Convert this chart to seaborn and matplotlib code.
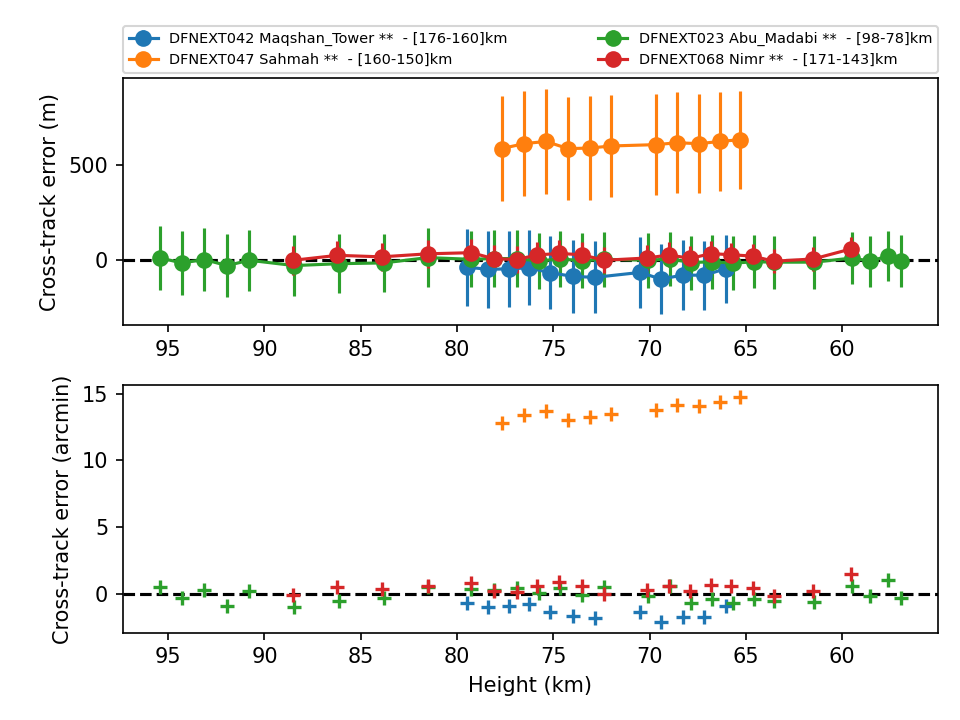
#!/usr/bin/env python3

import matplotlib
matplotlib.use("Agg")
import matplotlib.pyplot as plt
import seaborn as sns

# Station labels (legend order)
LABELS = [
    "DFNEXT042 Maqshan_Tower **  - [176-160]km",
    "DFNEXT047 Sahmah **  - [160-150]km",
    "DFNEXT023 Abu_Madabi **  - [98-78]km",
    "DFNEXT068 Nimr **  - [171-143]km",
]

# DFNEXT042 Maqshan_Tower
maq_height = [79.47, 78.40, 77.31, 76.27, 75.18, 73.98, 72.84, 70.49, 69.42, 68.26, 67.16, 66.03]
maq_err_m = [-36, -48, -45, -40, -65, -85, -90, -64, -99, -78, -79, -44]
maq_sigma_m = [203, 202, 199, 197, 191, 192, 190, 189, 184, 184, 182, 179]
maq_err_arcmin = [-0.70, -0.99, -0.90, -0.80, -1.34, -1.70, -1.82, -1.35, -2.10, -1.72, -1.72, -0.92]

# DFNEXT047 Sahmah
sah_height = [77.69, 76.53, 75.38, 74.24, 73.10, 72.00, 69.66, 68.57, 67.42, 66.36, 65.29]
sah_err_m = [588, 614, 626, 588, 591, 602, 609, 619, 614, 626, 635]
sah_sigma_m = [277, 277, 276, 272, 272, 268, 267, 265, 262, 261, 259]
sah_err_arcmin = [12.80, 13.40, 13.68, 13.03, 13.28, 13.48, 13.78, 14.15, 14.05, 14.38, 14.78]

# DFNEXT023 Abu_Madabi
abu_height = [95.43, 94.27, 93.13, 91.95, 90.79, 88.46, 86.12, 83.81, 81.52, 79.25,
              78.09, 76.91, 75.75, 74.66, 73.51, 72.37, 70.08, 68.93, 67.86, 66.76,
              65.65, 64.56, 63.54, 61.44, 59.48, 58.53, 57.64, 56.95]
abu_err_m = [12, -14, 4, -28, 0, -28, -18, -14, 14, 5,
             9, 9, -4, 7, -2, 5, 0, 7, -12, -8,
             -15, -8, -10, -10, 12, -5, 23, -4]
abu_sigma_m = [169, 167, 165, 168, 162, 162, 157, 154, 154, 148,
               148, 148, 147, 146, 145, 144, 144, 143, 142, 142,
               141, 140, 140, 139, 136, 135, 133, 136]
abu_err_arcmin = [0.47, -0.33, 0.28, -0.93, 0.20, -1.03, -0.53, -0.33, 0.50, 0.36,
                  0.25, 0.45, 0.07, 0.44, -0.07, 0.47, -0.21, 0.55, -0.70, -0.40,
                  -0.70, -0.40, -0.52, -0.65, 0.57, -0.17, 1.03, -0.33]

# DFNEXT068 Nimr
nim_height = [88.50, 86.21, 83.92, 81.52, 79.25, 78.09, 76.91, 75.83, 74.71, 73.51,
              72.37, 70.13, 68.99, 67.89, 66.80, 65.76, 64.65, 63.54, 61.49, 59.53]
nim_err_m = [0, 26, 18, 34, 40, 8, 4, 28, 36, 29,
             0, 12, 28, 10, 35, 29, 22, -5, 7, 60]
nim_sigma_m = [77, 75, 74, 73, 72, 71, 71, 70, 70, 69,
               68, 67, 66, 66, 65, 64, 64, 63, 62, 60]
nim_err_arcmin = [-0.10, 0.48, 0.35, 0.60, 0.78, 0.18, 0.15, 0.55, 0.85, 0.60,
                  -0.05, 0.25, 0.60, 0.22, 0.68, 0.58, 0.45, -0.14, 0.23, 1.45]

stations = [
    (maq_height, maq_err_m, maq_sigma_m, maq_err_arcmin),
    (sah_height, sah_err_m, sah_sigma_m, sah_err_arcmin),
    (abu_height, abu_err_m, abu_sigma_m, abu_err_arcmin),
    (nim_height, nim_err_m, nim_sigma_m, nim_err_arcmin),
]
colors = sns.color_palette("tab10", 4)

fig, (ax1, ax2) = plt.subplots(2, 1, figsize=(6.4, 4.8), dpi=150)
fig.subplots_adjust(left=0.128, right=0.977, top=0.892, bottom=0.121, hspace=0.243)

ax1.axhline(0, color="k", linestyle="--", linewidth=1.5, zorder=1)
ax2.axhline(0, color="k", linestyle="--", linewidth=1.5, zorder=1)

for (height, err_m, sigma_m, err_arcmin), color, label in zip(stations, colors, LABELS):
    ax1.errorbar(height, err_m, yerr=sigma_m, fmt="-o", color=color, markersize=7,
                 linewidth=1.5, label=label, zorder=2)
    sns.scatterplot(x=height, y=err_arcmin, ax=ax2, color=color, marker="+",
                    s=45, linewidth=1.6, zorder=3, legend=False)

ax1.invert_xaxis()
ax2.invert_xaxis()

ax1.set_ylabel("Cross-track error (m)")
ax2.set_ylabel("Cross-track error (arcmin)")
ax2.set_xlabel("Height (km)")

ax1.legend(bbox_to_anchor=(0., 1.02, 1., .102), loc="lower left", ncol=2,
           mode="expand", borderaxespad=0., fontsize="x-small")

plt.savefig("out.png", dpi=150)
